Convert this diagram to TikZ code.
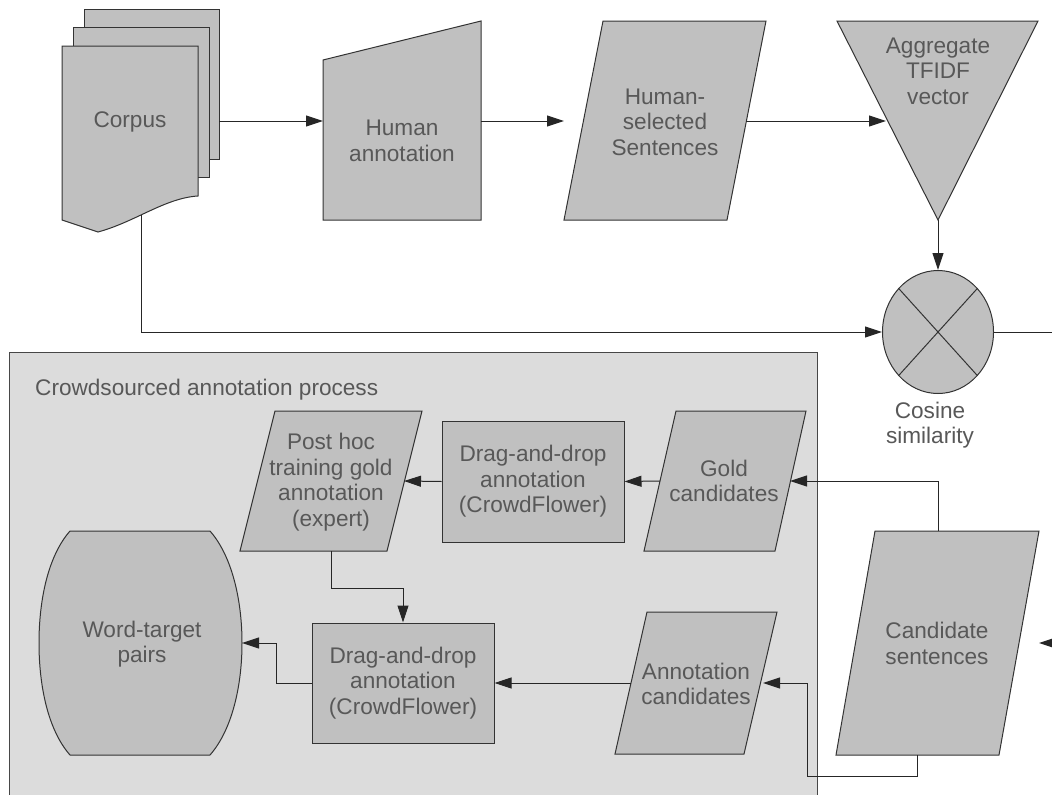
\documentclass[tikz,border=0pt]{standalone}
\usepackage{fontspec}
\setmainfont{Liberation Sans}
\usetikzlibrary{arrows.meta,shapes.geometric}
\definecolor{shapefill}{HTML}{C0C0C0}
\definecolor{groupfill}{HTML}{DCDCDC}
\definecolor{txt}{HTML}{585858}
\definecolor{edgecol}{HTML}{333333}
\tikzset{
  shp/.style={fill=shapefill, draw=edgecol, line width=1pt, line join=miter},
  lbl/.style={text=txt, font=\fontsize{22.6}{25.5}\selectfont, align=center, inner sep=0pt},
  procbox/.style={shp, rectangle, minimum width=182pt, minimum height=121pt, text=txt, font=\fontsize{22.6}{25.5}\selectfont, align=center, inner sep=0pt},
  conn/.style={draw=black!85, line width=1pt, -{Triangle[length=17pt,width=11pt]}},
  plainline/.style={draw=black!85, line width=1pt},
}
\begin{document}
\begin{tikzpicture}[x=1pt,y=-1pt]
\useasboundingbox (0,0) rectangle (1052,795);
% group background
\draw[fill=groupfill, draw=edgecol!90, line width=1pt] (9,352) rectangle (817,810);
\node[lbl, anchor=west] (grouplabel) at (35,390) {Crowdsourced annotation process};

% corpus stack
\draw[shp] (84,9) rectangle (219,159);
\draw[shp] (73,27) rectangle (209,177);
\draw[shp] (62,46) -- (198,46) -- (198,196) .. controls (165,198) and (135,222) .. (98,232) -- (62,220) -- cycle;
\node[lbl] (corpus) at (130,122) {Corpus};
\coordinate (corpus-e) at (219,121);
\coordinate (corpus-s) at (141,215);

% human annotation (manual input)
\draw[shp] (323,60) -- (481,21) -- (481,220) -- (323,220) -- cycle;
\node[lbl] (ha) at (402,141) {Human\\annotation};
\coordinate (ha-w) at (323,121);
\coordinate (ha-e) at (481,121);

% human-selected sentences
\draw[shp] (603,21) -- (766,21) -- (727,220) -- (564,220) -- cycle;
\node[lbl] (hs) at (665,122) {Human-\\selected\\Sentences};
\coordinate (hs-w) at (564,121);
\coordinate (hs-e) at (746,121);

% aggregate triangle
\draw[shp] (837,21) -- (1038,21) -- (938,220) -- cycle;
\node[lbl] (agg) at (938,71) {Aggregate\\TFIDF\\vector};
\coordinate (agg-w) at (886,121);
\coordinate (agg-s) at (938,220);

% cosine similarity
\node[shp, ellipse, minimum width=111pt, minimum height=123pt, inner sep=0pt] (cos) at (938,332) {};
\draw[edgecol, line width=1pt] (cos.north west) -- (cos.south east);
\draw[edgecol, line width=1pt] (cos.north east) -- (cos.south west);
\node[lbl] (coslabel) at (930,425) {Cosine\\similarity};
\coordinate (cos-out) at (1060,332);

% post hoc
\draw[shp] (275,411) -- (422,411) -- (387,551) -- (240,551) -- cycle;
\node[lbl] (ph) at (331,482) {Post hoc\\training gold\\annotation\\(expert)};
\coordinate (ph-e) at (404,481);
\coordinate (ph-s) at (331,551);

% drag boxes
\node[procbox] (drag1) at (533,481.5) {Drag-and-drop\\annotation\\(CrowdFlower)};
\node[procbox, minimum height=120pt] (drag2) at (403,683) {Drag-and-drop\\annotation\\(CrowdFlower)};

% gold candidates
\draw[shp] (676,411) -- (806,411) -- (775,551) -- (644,551) -- cycle;
\node[lbl] (gold) at (724,481) {Gold\\candidates};
\coordinate (gold-e) at (790,481);
\coordinate (gold-w) at (660,481);

% annotation candidates
\draw[shp] (647,612) -- (777,612) -- (744,754) -- (615,754) -- cycle;
\node[lbl] (ac) at (696,684) {Annotation\\candidates};
\coordinate (ac-e) at (763,683);
\coordinate (ac-w) at (631,683);
\coordinate (ac-turn) at (807,776);

% candidate sentences
\draw[shp] (875,531) -- (1039,531) -- (999,755) -- (836,755) -- cycle;
\node[lbl] (cand) at (937,643.5) {Candidate\\sentences};
\coordinate (cand-n) at (938,531);
\coordinate (cand-s) at (917,755);
\coordinate (cand-e) at (1039,643);
\coordinate (cand-in) at (1062,643);

% word-target pairs
\draw[shp] (70,531) -- (210,531) .. controls (232,556) and (242,600) .. (242,643)
  .. controls (242,686) and (232,730) .. (210,755) -- (70,755)
  .. controls (48,730) and (39,686) .. (39,643) .. controls (39,600) and (48,556) .. (70,531) -- cycle;
\node[lbl] (wt) at (142,644) {Word-target\\pairs};
\coordinate (wt-e) at (242,643);

% connectors
\draw[conn] (corpus-e) -- (ha-w);
\draw[conn] (ha-e) -- (hs-w);
\draw[conn] (hs-e) -- (agg-w);
\draw[conn] (agg-s) -- (cos.north);
\draw[conn] (corpus-s) |- (cos.west);
\draw[plainline] (cos.east) -- (cos-out);
\draw[conn] (cand-n) |- (gold-e);
\draw[conn] (gold-w) -- (drag1.east);
\draw[conn] (drag1.west) -- (ph-e);
\draw[conn] (ph-s) -- ++(0,37) -| (drag2.north);
\draw[conn] (drag2.west) -- ++(-35,0) |- (wt-e);
\draw[conn] (cand-s) |- (ac-turn) |- (ac-e);
\draw[conn] (ac-w) -- (drag2.east);
\draw[conn] (cand-in) -- (cand-e);
\end{tikzpicture}
\end{document}
